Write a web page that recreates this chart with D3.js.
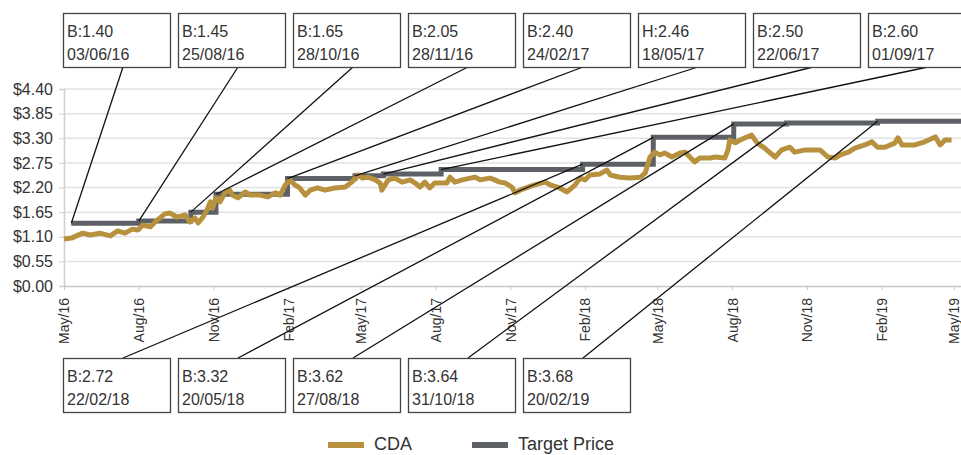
<!DOCTYPE html>
<html>
<head>
<meta charset="utf-8">
<script src="https://cdn.jsdelivr.net/npm/d3@7"></script>
<style>
  body { margin: 0; background: #fff; }
  text { font-family: "Liberation Sans", Arial, sans-serif; fill: #333; }
</style>
</head>
<body>
<svg id="chart" width="961" height="455"></svg>
<script>
// CDA share price
const cdaDates = [
  "2016-05-25","2016-06-03","2016-06-17","2016-06-26","2016-07-08","2016-07-21","2016-07-30","2016-08-08","2016-08-17","2016-08-24",
  "2016-08-30","2016-09-08","2016-09-14","2016-09-20","2016-09-26","2016-10-02","2016-10-11","2016-10-21","2016-10-27","2016-11-02",
  "2016-11-06","2016-11-12","2016-11-17","2016-11-21","2016-11-24","2016-11-28","2016-12-03","2016-12-09","2016-12-15","2016-12-18",
  "2016-12-25","2017-01-03","2017-01-09","2017-01-21","2017-01-31","2017-02-09","2017-02-15","2017-02-21","2017-02-27","2017-03-05",
  "2017-03-11","2017-03-18","2017-03-24","2017-04-02","2017-04-11","2017-04-23","2017-05-06","2017-05-14","2017-05-22","2017-05-27",
  "2017-06-03","2017-06-12","2017-06-18","2017-06-20","2017-06-28","2017-07-06","2017-07-15","2017-07-25","2017-07-31","2017-08-06",
  "2017-08-12","2017-08-18","2017-08-24","2017-08-31","2017-09-08","2017-09-12","2017-09-18","2017-09-27","2017-10-07","2017-10-13",
  "2017-10-19","2017-10-31","2017-11-06","2017-11-12","2017-11-19","2017-11-27","2017-12-01","2017-12-07","2017-12-17","2017-12-25",
  "2018-01-07","2018-01-13","2018-01-25","2018-02-03","2018-02-13","2018-02-19","2018-02-25","2018-03-03","2018-03-15","2018-03-24",
  "2018-03-28","2018-04-09","2018-04-21","2018-05-04","2018-05-10","2018-05-13","2018-05-16","2018-05-22","2018-05-28","2018-06-03",
  "2018-06-12","2018-06-22","2018-06-28","2018-07-04","2018-07-10","2018-07-16","2018-07-29","2018-08-04","2018-08-16","2018-08-20",
  "2018-08-22","2018-08-29","2018-09-04","2018-09-10","2018-09-18","2018-09-25","2018-10-04","2018-10-11","2018-10-17","2018-10-25",
  "2018-11-04","2018-11-10","2018-11-23","2018-12-01","2018-12-11","2018-12-21","2018-12-30","2019-01-05","2019-01-15","2019-01-23",
  "2019-02-04","2019-02-13","2019-02-20","2019-03-01","2019-03-13","2019-03-17","2019-03-22","2019-04-07","2019-04-19","2019-05-02",
  "2019-05-08","2019-05-14","2019-05-22"
];
const cdaPrices = [
  1.05,1.07,1.18,1.14,1.18,1.12,1.23,1.18,1.27,1.25,
  1.36,1.32,1.43,1.52,1.61,1.63,1.54,1.59,1.43,1.52,
  1.41,1.54,1.70,1.88,1.74,1.97,1.88,2.08,2.14,2.03,
  1.97,2.10,2.03,2.03,1.99,2.08,2.03,2.25,2.37,2.26,
  2.19,2.03,2.14,2.19,2.14,2.19,2.21,2.32,2.48,2.41,
  2.43,2.37,2.30,2.14,2.37,2.41,2.32,2.37,2.30,2.21,
  2.32,2.19,2.30,2.30,2.30,2.43,2.32,2.37,2.41,2.43,
  2.37,2.41,2.37,2.32,2.30,2.21,2.08,2.14,2.21,2.26,
  2.32,2.26,2.19,2.10,2.26,2.41,2.37,2.48,2.50,2.59,
  2.48,2.43,2.41,2.43,2.52,2.70,2.88,2.99,2.93,2.97,
  2.88,2.97,2.99,2.88,2.77,2.86,2.86,2.88,2.86,3.04,
  3.26,3.20,3.26,3.31,3.37,3.19,3.08,2.97,2.88,3.04,
  3.10,2.99,3.04,3.04,3.04,2.88,2.86,2.93,2.99,3.08,
  3.15,3.22,3.10,3.10,3.19,3.31,3.15,3.15,3.22,3.33,
  3.15,3.26,3.26
];

// Target price changes
const targetDates = ["2016-06-03","2016-08-25","2016-10-28","2016-11-28","2017-02-24","2017-05-18","2017-06-22",
  "2017-09-01","2018-02-22","2018-05-20","2018-08-27","2018-10-31","2019-02-20"];
const targetValues = [1.40,1.45,1.65,2.05,2.40,2.46,2.50,2.60,2.72,3.32,3.62,3.64,3.68];
const targetCodes = ["B","B","B","B","B","H","B","B","B","B","B","B","B"];

const yTicks = [0, 0.55, 1.10, 1.65, 2.20, 2.75, 3.30, 3.85, 4.40];
const xTickDates = ["2016-05-25","2016-08-25","2016-11-25","2017-02-25","2017-05-25","2017-08-25","2017-11-25",
  "2018-02-25","2018-05-25","2018-08-25","2018-11-25","2019-02-25","2019-05-25"];
const seriesNames = ["CDA", "Target Price"];
const seriesColors = ["#b8913f", "#5d6166"];

const parse = d3.timeParse("%Y-%m-%d");
const fmtDate = d3.timeFormat("%d/%m/%y");

const plotLeft = 64, plotRight = 954, plotEdge = 961, plotTop = 89, plotBottom = 286;

const svg = d3.select("#chart");

const x = d3.scaleTime()
  .domain([parse("2016-05-25"), parse("2019-05-25")])
  .range([plotLeft, plotRight]);
const y = d3.scaleLinear().domain([0, 4.4]).range([plotBottom, plotTop]);

// grid
svg.append("g").selectAll("line")
  .data(yTicks.slice(1))
  .join("line")
  .attr("x1", plotLeft).attr("x2", plotEdge)
  .attr("y1", d => y(d)).attr("y2", d => y(d))
  .attr("stroke", "#e2e2e2").attr("stroke-width", 1.5);

// axes
const yAxis = svg.append("g")
  .attr("transform", `translate(${plotLeft},0)`)
  .call(d3.axisLeft(y).tickValues(yTicks).tickFormat(d => "$" + d.toFixed(2)).tickSize(5).tickPadding(6));
yAxis.select(".domain").attr("stroke", "#d0d0d0").attr("stroke-width", 1.5);
yAxis.selectAll(".tick line").attr("stroke", "#d0d0d0");
yAxis.selectAll("text").style("font-size", "16px").attr("fill", "#333");

const xAxis = svg.append("g")
  .attr("transform", `translate(0,${plotBottom})`)
  .call(d3.axisBottom(x).tickValues(xTickDates.map(parse)).tickFormat(d3.timeFormat("%b/%y")).tickSize(4).tickSizeOuter(0));
xAxis.select(".domain").attr("d", `M${plotLeft},0.5H${plotEdge}`).attr("stroke", "#c8c8c8").attr("stroke-width", 1.5);
xAxis.selectAll(".tick line").attr("stroke", "#c8c8c8");
xAxis.selectAll("text")
  .style("font-size", "14px")
  .attr("fill", "#333")
  .attr("transform", "rotate(-90)")
  .attr("x", -12).attr("y", 0).attr("dy", "0.35em")
  .style("text-anchor", "end");

// target price step line
const targetData = targetDates.map((d, i) => ({ date: parse(d), value: targetValues[i] }));
const targetLine = targetData.concat([{ date: x.invert(plotEdge), value: targetValues[targetValues.length - 1] }]);

svg.append("path")
  .datum(targetLine)
  .attr("fill", "none")
  .attr("stroke", seriesColors[1])
  .attr("stroke-width", 5)
  .attr("d", d3.line().curve(d3.curveStepAfter).x(d => x(d.date)).y(d => y(d.value)));

// CDA line
const cdaData = cdaDates.map((d, i) => ({ date: parse(d), value: cdaPrices[i] }));
svg.append("path")
  .datum(cdaData)
  .attr("fill", "none")
  .attr("stroke", seriesColors[0])
  .attr("stroke-width", 5)
  .attr("stroke-linejoin", "round")
  .attr("d", d3.line().x(d => x(d.date)).y(d => y(d.value)));

// callout boxes
const boxW = 107, boxH = 54, boxStep = 115, boxX0 = 63;
const callouts = targetData.map((d, i) => {
  const row = i < 8 ? 0 : 1;
  const col = i < 8 ? i : i - 8;
  return {
    ...d,
    label: targetCodes[i] + ":" + d.value.toFixed(2),
    bx: boxX0 + col * boxStep,
    by: row === 0 ? 13 : 358,
    row
  };
});

const leaders = svg.append("g");
leaders.selectAll("line")
  .data(callouts)
  .join("line")
  .attr("x1", d => d.bx + 60)
  .attr("y1", d => d.row === 0 ? d.by + boxH : d.by)
  .attr("x2", d => x(d.date))
  .attr("y2", d => y(d.value))
  .attr("stroke", "#111")
  .attr("stroke-width", 1.3);

const boxes = svg.append("g").selectAll("g")
  .data(callouts)
  .join("g")
  .attr("transform", d => `translate(${d.bx},${d.by})`);
boxes.append("rect")
  .attr("x", 0.5).attr("y", 0.5)
  .attr("width", boxW).attr("height", boxH)
  .attr("fill", "#fff")
  .attr("stroke", "#444").attr("stroke-width", 1.3);
boxes.append("text")
  .attr("x", 4).attr("y", 24)
  .style("font-size", "16px")
  .text(d => d.label);
boxes.append("text")
  .attr("x", 4).attr("y", 47)
  .style("font-size", "16px")
  .text(d => fmtDate(d.date));

// legend
const legendX = [328, 472];
const legend = svg.append("g").selectAll("g")
  .data(seriesNames)
  .join("g")
  .attr("transform", (d, i) => `translate(${legendX[i]},445)`);
legend.append("line")
  .attr("x1", 0).attr("x2", 36)
  .attr("stroke", (d, i) => seriesColors[i])
  .attr("stroke-width", 6);
legend.append("text")
  .attr("x", 46).attr("y", 5)
  .style("font-size", "18px")
  .attr("fill", "#222")
  .text(d => d);
</script>
</body>
</html>
